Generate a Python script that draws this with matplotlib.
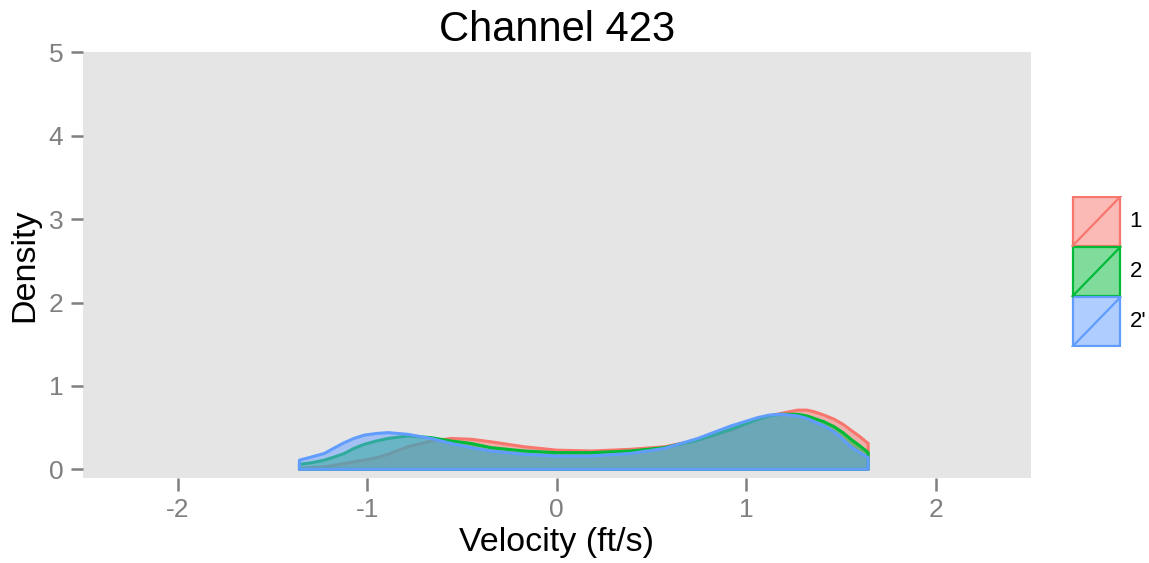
import matplotlib
matplotlib.use("Agg")
import matplotlib.pyplot as plt
from matplotlib.patches import Rectangle

plt.rcParams['font.family'] = ['Liberation Sans', 'DejaVu Sans']
plt.rcParams['axes.unicode_minus'] = False

# density curves
velocity = [-1.357, -1.29, -1.226, -1.17, -1.12, -1.07, -1.015, -0.95, -0.89, -0.786,
            -0.663, -0.557, -0.45, -0.347, -0.17, 0.0, 0.18, 0.39, 0.567, 0.744,
            0.919, 1.06, 1.12, 1.183, 1.271, 1.32, 1.359, 1.41, 1.464, 1.51,
            1.552, 1.60, 1.643]
dens_1 = [0.01, 0.02, 0.03, 0.05, 0.07, 0.09, 0.11, 0.14, 0.18, 0.27,
          0.34, 0.37, 0.36, 0.33, 0.27, 0.23, 0.22, 0.24, 0.27, 0.35,
          0.47, 0.60, 0.64, 0.67, 0.71, 0.71, 0.69, 0.65, 0.60, 0.54,
          0.47, 0.39, 0.31]
dens_2 = [0.06, 0.08, 0.11, 0.15, 0.19, 0.25, 0.30, 0.34, 0.37, 0.40,
          0.38, 0.34, 0.31, 0.26, 0.22, 0.20, 0.20, 0.22, 0.26, 0.35,
          0.48, 0.60, 0.64, 0.66, 0.66, 0.64, 0.61, 0.57, 0.51, 0.44,
          0.36, 0.28, 0.20]
dens_2p = [0.11, 0.15, 0.19, 0.26, 0.32, 0.37, 0.41, 0.43, 0.44, 0.42,
           0.37, 0.31, 0.26, 0.22, 0.18, 0.16, 0.16, 0.19, 0.25, 0.37,
           0.52, 0.62, 0.65, 0.66, 0.64, 0.61, 0.57, 0.52, 0.45, 0.36,
           0.27, 0.20, 0.14]

labels = ['1', '2', "2'"]
colors = ['#F8766D', '#00BA38', '#619CFF']
series = [dens_1, dens_2, dens_2p]

fig = plt.figure(figsize=(11.49, 5.63), dpi=100, facecolor='white')
ax = fig.add_axes([0.072, 0.1504, 0.825, 0.7566])
ax.set_facecolor('#E5E5E5')

for dens, c in zip(series, colors):
    xs = [velocity[0]] + velocity + [velocity[-1]]
    ys = [0] + dens + [0]
    ax.fill(xs, ys, facecolor=c, alpha=0.5, edgecolor='none')
    ax.fill(xs, ys, facecolor='none', edgecolor=c, lw=2.2, joinstyle='round')

ax.set_xlim(-2.5, 2.5)
ax.set_ylim(-0.108, 5.0)
ax.set_xticks([-2, -1, 0, 1, 2])
ax.set_yticks([0, 1, 2, 3, 4, 5])
for s in ax.spines.values():
    s.set_visible(False)
ax.tick_params(colors='#7F7F7F', labelsize=19, length=9, width=1.8, pad=5)
ax.set_title('Channel 423', fontsize=30, pad=8)
ax.set_xlabel('Velocity (ft/s)', fontsize=24.5, labelpad=4)
ax.set_ylabel('Density', fontsize=24.5, labelpad=6)

# legend keys drawn by hand, ggplot style (box with diagonal)
lax = fig.add_axes([1071 / 1149, (563 - 347) / 563, 51 / 1149, 151 / 563])
lax.set_xlim(0, 1)
lax.set_ylim(0, 3)
lax.axis('off')
for i, (lab, c) in enumerate(zip(labels, colors)):
    y0 = 2 - i
    lax.add_patch(Rectangle((0.03, y0 + 0.01), 0.94, 0.98, facecolor=c, alpha=0.5, edgecolor='none'))
    lax.add_patch(Rectangle((0.03, y0 + 0.01), 0.94, 0.98, facecolor='none', edgecolor=c, lw=1.6))
    lax.plot([0.03, 0.97], [y0 + 0.01, y0 + 0.99], color=c, lw=1.6)
    lax.text(1.15, y0 + 0.5, lab, fontsize=16, va='center', ha='left')

fig.savefig('out.png', dpi=100, facecolor=fig.get_facecolor())
